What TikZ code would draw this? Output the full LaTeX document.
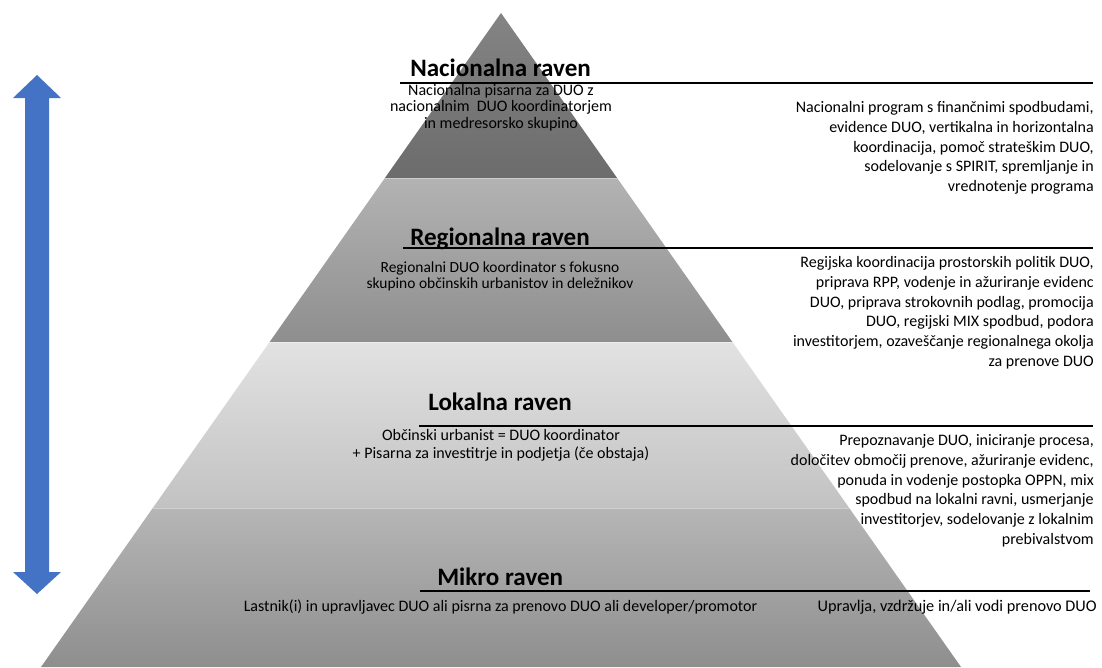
\documentclass[tikz,border=0pt]{standalone}
\usepackage{fontspec}
\setmainfont{Carlito}
\definecolor{bandAtop}{HTML}{848484}
\definecolor{bandAbot}{HTML}{6C6C6C}
\definecolor{bandBtop}{HTML}{B3B3B3}
\definecolor{bandBbot}{HTML}{8E8E8E}
\definecolor{bandCtop}{HTML}{E2E2E2}
\definecolor{bandCbot}{HTML}{C2C2C2}
\definecolor{bandDtop}{HTML}{B6B6B6}
\definecolor{bandDbot}{HTML}{8E8E8E}
\definecolor{arrowblue}{HTML}{4472C4}
\begin{document}
\begin{tikzpicture}[x=0.75pt,y=-0.75pt,
  levelhead/.style={font=\fontsize{18.8}{22}\selectfont\bfseries, inner sep=0, anchor=base west},
  innertext/.style={font=\fontsize{12}{12.4}\selectfont, align=center, inner sep=0, anchor=north},
  sidetext/.style={font=\fontsize{12}{14.9}\selectfont, align=right, inner sep=0, anchor=north east},
  levelrule/.style={line width=1.1pt, black},
  bandsep/.style={line width=0.6pt, white, opacity=0.35}]
\useasboundingbox (0,0) rectangle (1102,667);

% pyramid bands, top to bottom
\shade[top color=bandAtop, bottom color=bandAbot]
  (501,13) -- (617.1,178) -- (384.9,178) -- cycle;
\shade[top color=bandBtop, bottom color=bandBbot]
  (384.9,178) -- (617.1,178) -- (732.4,342) -- (269.6,342) -- cycle;
\shade[top color=bandCtop, bottom color=bandCbot]
  (269.6,342) -- (732.4,342) -- (849.2,508) -- (152.8,508) -- cycle;
\shade[top color=bandDtop, bottom color=bandDbot]
  (152.8,508) -- (849.2,508) -- (961,667) -- (41,667) -- cycle;
\draw[bandsep] (384.9,178.5) -- (617.1,178.5);
\draw[bandsep] (269.6,342.5) -- (732.4,342.5);
\draw[bandsep] (152.8,508.5) -- (849.2,508.5);

% double-headed arrow on the left
\fill[arrowblue] (37,75) -- (61,98) -- (49,98) -- (49,572) -- (61,572) -- (37,594)
  -- (13,572) -- (25,572) -- (25,98) -- (13,98) -- cycle;

% national level
\node[levelhead] (nacHead) at (410,77) {Nacionalna raven};
\coordinate (nacRuleA) at (400,83);
\coordinate (nacRuleB) at (1093,83);
\draw[levelrule] (nacRuleA) -- (nacRuleB);
\node[innertext] (nacBody) at (501,83.4)
  {\strut Nacionalna pisarna za DUO z\\nacionalnim\ \ DUO koordinatorjem\\in medresorsko skupino};
\node[sidetext] (nacSide) at (1094,98.1)
  {\strut Nacionalni program s finančnimi spodbudami,\\evidence DUO, vertikalna in horizontalna\\koordinacija, pomoč strateškim DUO,\\sodelovanje s SPIRIT, spremljanje in\\vrednotenje programa};

% regional level
\node[levelhead] (regHead) at (410,245) {Regionalna raven};
\coordinate (regRuleA) at (403,248);
\coordinate (regRuleB) at (1093,248);
\draw[levelrule] (regRuleA) -- (regRuleB);
\node[innertext, font=\fontsize{11.6}{12.4}\selectfont] (regBody) at (500,260.4)
  {\strut Regionalni DUO koordinator s fokusno\\skupino občinskih urbanistov in deležnikov};
\node[sidetext] (regSide) at (1094,253.1)
  {\strut Regijska koordinacija prostorskih politik DUO,\\priprava RPP, vodenje in ažuriranje evidenc\\DUO, priprava strokovnih podlag, promocija\\DUO, regijski MIX spodbud, podora\\investitorjem, ozaveščanje regionalnega okolja\\za prenove DUO};

% local level
\node[levelhead] (lokHead) at (428,410) {Lokalna raven};
\coordinate (lokRuleA) at (419,426);
\coordinate (lokRuleB) at (1093,426);
\draw[levelrule] (lokRuleA) -- (lokRuleB);
\node[innertext] (lokBody) at (501,428.4)
  {\strut Občinski urbanist = DUO koordinator\\+ Pisarna za investitrje in podjetja (če obstaja)};
\node[sidetext] (lokSide) at (1094,431.1)
  {\strut Prepoznavanje DUO, iniciranje procesa,\\določitev območij prenove, ažuriranje evidenc,\\ponuda in vodenje postopka OPPN, mix\\spodbud na lokalni ravni, usmerjanje\\investitorjev, sodelovanje z lokalnim\\prebivalstvom};

% micro level
\node[levelhead] (mikHead) at (437,585) {Mikro raven};
\coordinate (mikRuleA) at (420,591);
\coordinate (mikRuleB) at (1090,591);
\draw[levelrule] (mikRuleA) -- (mikRuleB);
\node[font=\fontsize{12}{12.4}\selectfont, inner sep=0, anchor=base] (mikBody) at (500.5,611)
  {Lastnik(i) in upravljavec DUO ali pisrna za prenovo DUO ali developer/promotor};
\node[font=\fontsize{12.2}{14.9}\selectfont, inner sep=0, anchor=base east] (mikSide) at (1097,611)
  {Upravlja, vzdržuje in/ali vodi prenovo DUO};
\end{tikzpicture}
\end{document}
